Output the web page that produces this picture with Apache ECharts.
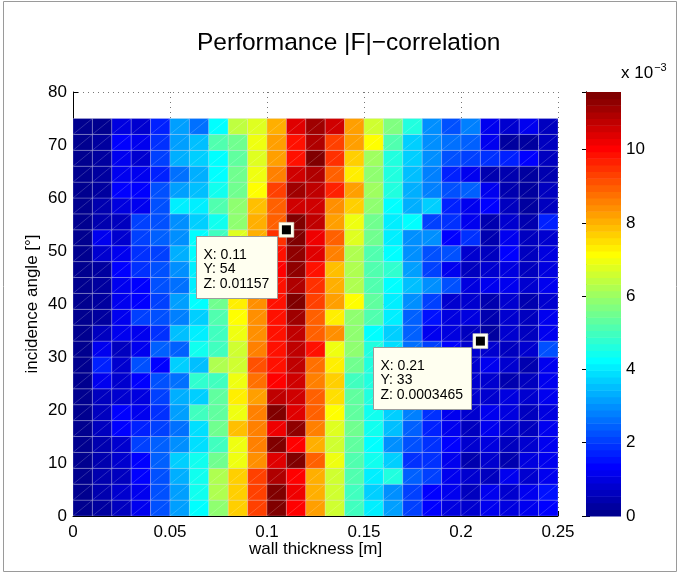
<!DOCTYPE html>
<html>
<head>
<meta charset="utf-8">
<script src="https://cdn.jsdelivr.net/npm/echarts@6/dist/echarts.min.js"></script>
<style>
  html, body { margin: 0; padding: 0; background: #fff; }
  #chart { width: 680px; height: 574px; }
</style>
</head>
<body>
<div id="chart"></div>
<script>
// Grid nodes: wall thickness [m] and incidence angle [deg]
const thickness = [0, 0.01, 0.02, 0.03, 0.04, 0.05, 0.06, 0.07, 0.08, 0.09, 0.10, 0.11, 0.12,
                   0.13, 0.14, 0.15, 0.16, 0.17, 0.18, 0.19, 0.20, 0.21, 0.22, 0.23, 0.24, 0.25];
const angles = [0, 3, 6, 9, 12, 15, 18, 21, 24, 27, 30, 33, 36, 39, 42, 45, 48, 51, 54, 57,
                60, 63, 66, 69, 72, 75];

// |F|-correlation per cell (x 10^-3); one row per angle, bottom row first
const corr = [
  [0.1, 0.3, 0.6, 1.2, 2.2, 3.2, 4.3, 5.8, 7.6, 9.3, 11.5, 10.1, 8.2, 6.6, 5.0, 4.0, 3.1, 2.0, 1.3, 1.0, 0.8, 1.2, 1.0, 1.1, 1.4],
  [0.1, 0.4, 0.9, 1.2, 2.3, 3.2, 4.5, 6.2, 7.7, 9.3, 11.5, 10.3, 8.0, 6.6, 5.0, 3.7, 3.0, 2.1, 1.3, 1.1, 0.7, 1.2, 0.9, 1.2, 1.6],
  [0.1, 0.4, 0.7, 1.3, 2.3, 3.4, 4.5, 6.3, 7.7, 9.3, 11.0, 10.1, 8.1, 6.6, 5.2, 4.0, 4.7, 2.5, 2.1, 1.1, 0.8, 0.7, 1.2, 0.8, 1.2],
  [0.1, 0.5, 0.9, 1.4, 2.5, 3.7, 4.5, 5.5, 7.0, 8.4, 10.4, 11.4, 8.9, 7.0, 5.2, 4.5, 3.7, 1.9, 1.9, 1.2, 0.5, 0.8, 0.5, 1.0, 1.1],
  [0.1, 0.5, 0.9, 2.1, 2.5, 3.0, 3.8, 5.0, 6.9, 8.6, 11.4, 10.1, 8.1, 6.6, 5.4, 4.2, 3.0, 2.2, 1.9, 1.3, 0.8, 1.0, 0.7, 0.8, 1.1],
  [0.1, 0.7, 1.4, 1.8, 2.0, 2.7, 3.8, 5.6, 7.9, 8.5, 10.3, 11.3, 8.5, 6.8, 5.5, 4.5, 3.6, 2.5, 1.7, 1.2, 0.6, 1.2, 0.9, 0.7, 1.2],
  [0.1, 0.6, 1.3, 1.1, 1.9, 3.2, 5.0, 5.3, 6.9, 8.5, 11.5, 10.4, 9.0, 7.2, 5.4, 4.5, 3.7, 2.8, 1.9, 1.2, 0.9, 1.1, 1.0, 0.7, 1.0],
  [0.1, 0.7, 0.9, 1.0, 2.1, 3.3, 3.7, 5.4, 7.4, 8.3, 10.8, 10.6, 8.9, 7.5, 5.4, 4.7, 3.8, 2.6, 1.8, 1.2, 0.8, 0.8, 1.0, 0.8, 1.2],
  [0.1, 1.1, 0.9, 1.3, 2.2, 2.6, 4.8, 5.0, 7.0, 8.7, 10.1, 10.6, 8.5, 7.6, 5.0, 4.6, 3.6, 2.4, 1.9, 1.1, 0.9, 0.8, 0.4, 0.7, 1.1],
  [0.1, 1.7, 0.9, 2.3, 1.3, 3.7, 3.5, 6.3, 6.6, 9.1, 9.9, 10.8, 8.7, 7.3, 5.5, 4.7, 3.7, 2.5, 1.8, 1.2, 0.8, 1.1, 0.9, 0.5, 1.2],
  [0.1, 1.1, 0.6, 1.2, 2.5, 2.4, 4.5, 5.0, 6.6, 8.5, 9.9, 10.7, 9.9, 7.0, 5.9, 4.7, 3.8, 2.6, 2.0, 1.3, 0.9, 0.9, 0.6, 0.9, 2.3],
  [0.1, 0.7, 1.2, 1.1, 1.9, 3.6, 4.0, 5.0, 6.9, 8.4, 9.8, 10.8, 8.9, 8.4, 5.9, 4.3, 3.7, 2.4, 1.2, 1.0, 0.7, 0.3465, 0.9, 0.7, 1.1],
  [0.1, 0.2, 1.1, 2.1, 2.3, 2.8, 3.7, 5.1, 7.2, 8.4, 9.9, 11.2, 8.9, 7.4, 5.8, 5.1, 4.1, 2.5, 1.5, 1.0, 1.0, 0.4, 0.9, 0.6, 1.1],
  [0.1, 0.3, 1.1, 1.3, 2.1, 3.2, 4.3, 5.6, 7.4, 8.4, 9.8, 11.5, 9.4, 8.2, 7.1, 5.4, 4.0, 3.0, 2.0, 0.9, 0.8, 0.5, 0.9, 0.5, 0.9],
  [0.1, 0.3, 1.1, 1.3, 2.3, 2.6, 4.1, 5.3, 7.0, 8.5, 9.9, 11.0, 9.5, 8.0, 6.3, 5.2, 4.3, 3.6, 3.0, 2.3, 1.0, 1.2, 1.1, 0.9, 1.1],
  [0.1, 0.2, 1.3, 1.9, 2.2, 3.0, 4.0, 5.0, 6.8, 8.6, 10.0, 11.3, 9.8, 7.8, 6.2, 5.2, 4.8, 3.1, 2.0, 1.2, 0.6, 0.8, 1.0, 0.7, 1.0],
  [0.1, 0.8, 1.1, 1.9, 2.1, 3.3, 4.2, 5.2, 6.5, 8.3, 9.8, 11.3, 10.4, 8.5, 6.2, 5.1, 4.2, 2.9, 2.2, 2.3, 0.8, 0.6, 1.3, 0.7, 1.0],
  [0.1, 1.2, 0.9, 2.1, 2.5, 2.9, 4.2, 5.0, 6.8, 8.0, 9.5, 11.4, 10.3, 8.9, 6.8, 5.5, 4.1, 3.0, 2.9, 1.4, 1.9, 0.5, 1.2, 0.7, 0.8],
  [0.1, 0.5, 0.7, 2.1, 2.3, 2.9, 3.7, 4.4, 5.9, 8.1, 8.9, 11.57, 10.7, 8.3, 7.0, 5.6, 4.1, 4.3, 2.1, 1.9, 1.2, 0.5, 0.9, 0.5, 1.8],
  [0.1, 0.5, 1.0, 1.1, 2.3, 4.0, 4.1, 5.1, 5.9, 7.9, 8.9, 10.6, 10.6, 8.4, 7.6, 5.9, 4.3, 3.3, 3.7, 1.8, 1.1, 1.3, 0.6, 0.3, 0.7],
  [0.1, 0.2, 1.3, 1.4, 2.3, 3.1, 3.5, 4.4, 5.6, 7.2, 9.3, 11.2, 10.8, 9.7, 8.2, 6.0, 4.6, 3.4, 2.8, 2.3, 2.5, 1.1, 0.5, 0.3, 0.6],
  [0.1, 0.2, 1.1, 1.2, 1.7, 2.7, 3.4, 4.3, 5.6, 6.9, 8.5, 10.5, 10.9, 9.0, 7.4, 5.9, 4.7, 3.5, 2.8, 1.8, 1.1, 0.5, 0.4, 0.3, 0.5],
  [0.1, 0.2, 1.2, 0.9, 2.1, 3.4, 3.7, 4.3, 5.4, 6.8, 8.2, 9.8, 11.5, 9.5, 7.7, 6.0, 4.7, 3.7, 3.0, 2.3, 2.0, 1.9, 1.8, 1.3, 0.7],
  [0.1, 0.3, 1.4, 1.2, 1.9, 3.2, 3.6, 5.2, 5.5, 6.9, 8.2, 9.8, 11.0, 9.3, 8.3, 7.2, 5.2, 3.7, 3.0, 2.6, 2.5, 1.2, 0.3, 0.2, 0.6],
  [0.1, 0.15, 1.0, 0.8, 1.8, 3.2, 2.7, 4.2, 6.4, 6.7, 8.1, 10.4, 11.2, 10.5, 8.3, 6.6, 5.7, 4.6, 3.0, 2.3, 2.8, 1.2, 0.9, 1.1, 0.6]
];

// Colour-bar tick values (x 10^-3) and pinned data cursors [thickness, angle]
const colorbarTicks = [0, 2, 4, 6, 8, 10];
const dataTips = [[0.11, 54], [0.21, 33]];

const FONT = '"Liberation Sans", Arial, Helvetica, sans-serif';
const cMin = 0;
const cMax = Math.max(...corr.map(r => Math.max(...r)));
const LEVELS = 64;

// MATLAB-style jet colormap with 64 levels (1-based index)
function jetU(k) {
  if (k <= 16) return k / 16;
  if (k <= 31) return 1;
  return (48 - k) / 16;
}
function jetColor(i) {
  const r = i >= 25 ? jetU(i - 24) : 0;
  const g = (i >= 9 && i <= 55) ? jetU(i - 8) : 0;
  const b = i <= 39 ? jetU(i + 8) : 0;
  return 'rgb(' + Math.round(r * 255) + ',' + Math.round(g * 255) + ',' + Math.round(b * 255) + ')';
}
function levelOf(z) {
  return Math.max(1, Math.min(LEVELS, Math.floor((z - cMin) / (cMax - cMin) * LEVELS) + 1));
}

// Cells: [x0, x1, y0, y1, z]
const cells = [];
for (let j = 0; j < angles.length - 1; j++) {
  for (let i = 0; i < thickness.length - 1; i++) {
    cells.push([thickness[i], thickness[i + 1], angles[j], angles[j + 1], corr[j][i]]);
  }
}
// Colour-bar bands: [lo, hi, level]
const bands = [];
for (let k = 1; k <= LEVELS; k++) {
  bands.push([cMin + (k - 1) / LEVELS * (cMax - cMin), cMin + k / LEVELS * (cMax - cMin), k]);
}

const chart = echarts.init(document.getElementById('chart'), null, { renderer: 'canvas' });

const axisText = { color: '#000', fontFamily: FONT, fontSize: 17 };
const dotted = { show: true, lineStyle: { color: '#777', type: [1, 4], width: 1 } };

chart.setOption({
  animation: false,
  backgroundColor: '#fff',
  title: {
    text: 'Performance |F|\u2212correlation',
    left: 197, top: 31, padding: 0,
    textStyle: { fontFamily: FONT, fontSize: 24.5, fontWeight: 'normal', color: '#000' }
  },
  grid: [
    { left: 73, top: 92, width: 485, height: 424 },
    { left: 586, top: 92, width: 35, height: 424 }
  ],
  xAxis: [
    {
      type: 'value', gridIndex: 0, min: 0, max: 0.25, interval: 0.05,
      name: 'wall thickness [m]', nameLocation: 'middle', nameGap: 25, nameMoveOverlap: false,
      nameTextStyle: { fontFamily: FONT, fontSize: 17, color: '#000' },
      axisLine: { show: true, onZero: false, lineStyle: { color: '#000', width: 1 } },
      axisTick: { show: true, inside: true, length: 5, lineStyle: { color: '#000' } },
      axisLabel: Object.assign({ margin: 8 }, axisText),
      splitLine: dotted
    },
    {
      type: 'value', gridIndex: 1, min: 0, max: 1, show: false
    }
  ],
  yAxis: [
    {
      type: 'value', gridIndex: 0, min: 0, max: 80, interval: 10,
      name: 'incidence angle [\u00b0]', nameLocation: 'middle', nameGap: 32, nameMoveOverlap: false,
      nameTextStyle: { fontFamily: FONT, fontSize: 17, color: '#000' },
      axisLine: { show: true, onZero: false, lineStyle: { color: '#000', width: 1 } },
      axisTick: { show: true, inside: true, length: 5, lineStyle: { color: '#000' } },
      axisLabel: Object.assign({ margin: 6 }, axisText),
      splitLine: dotted
    },
    {
      type: 'value', gridIndex: 1, min: cMin, max: cMax, interval: 2, position: 'right',
      axisLine: { show: true, lineStyle: { color: '#000', width: 1 } },
      axisTick: { show: true, inside: true, length: 4, lineStyle: { color: '#000' } },
      axisLabel: Object.assign({ margin: 5, formatter: v => colorbarTicks.indexOf(v) >= 0 ? String(v) : '' }, axisText),
      splitLine: { show: false }
    },
    {
      type: 'value', gridIndex: 1, min: cMin, max: cMax, interval: 2, position: 'left',
      axisLine: { show: true, lineStyle: { color: '#000', width: 1 } },
      axisTick: { show: true, inside: true, length: 4, lineStyle: { color: '#000' } },
      axisLabel: { show: false },
      splitLine: { show: false }
    }
  ],
  series: [
    {
      type: 'custom',
      xAxisIndex: 0, yAxisIndex: 0,
      data: cells,
      encode: { x: [0, 1], y: [2, 3] },
      clip: true,
      renderItem: function (params, api) {
        const p0 = api.coord([api.value(0), api.value(2)]);
        const p1 = api.coord([api.value(1), api.value(3)]);
        const x = p0[0], y = p1[1], w = p1[0] - p0[0], h = p0[1] - p1[1];
        const fill = jetColor(levelOf(api.value(4)));
        return {
          type: 'group',
          children: [
            { type: 'rect', shape: { x: x, y: y, width: w, height: h },
              style: { fill: fill, stroke: 'rgba(215,215,230,0.35)', lineWidth: 0.8 } },
            { type: 'line', shape: { x1: x, y1: y + h, x2: x + w, y2: y },
              style: { stroke: 'rgba(255,255,255,0.3)', lineWidth: 0.6 } }
          ]
        };
      }
    },
    {
      type: 'custom',
      xAxisIndex: 1, yAxisIndex: 1,
      data: bands,
      encode: { y: [0, 1] },
      renderItem: function (params, api) {
        const p0 = api.coord([0, api.value(0)]);
        const p1 = api.coord([1, api.value(1)]);
        return {
          type: 'rect',
          shape: { x: p0[0], y: p1[1], width: p1[0] - p0[0], height: p0[1] - p1[1] + 0.5 },
          style: { fill: jetColor(api.value(2)) }
        };
      }
    }
  ]
});

// Frame, colour-bar exponent and pinned data cursors
function textWidth(str, font) {
  const c = document.createElement('canvas').getContext('2d');
  c.font = font;
  return c.measureText(str).width;
}
function fmt(v) { return String(Number(v.toPrecision(4))); }

const graphics = [
  { type: 'rect', shape: { x: 3.5, y: 1.5, width: 673, height: 570 },
    style: { fill: 'none', stroke: '#9a9a9a', lineWidth: 1 }, z: 100 },
  { type: 'text', x: 621, y: 62, z: 100,
    style: {
      text: '{a|x 10}{b|\u22123}',
      rich: {
        a: { fontFamily: FONT, fontSize: 17, fill: '#000', verticalAlign: 'bottom', lineHeight: 20 },
        b: { fontFamily: FONT, fontSize: 11, fill: '#000', verticalAlign: 'top', lineHeight: 20, padding: [0, 0, 11, 1] }
      }
    }
  }
];

const tipFont = '14px "Liberation Sans", Arial, Helvetica, sans-serif';
dataTips.forEach(function (tp) {
  const i = thickness.indexOf(tp[0]);
  const j = angles.indexOf(tp[1]);
  const z = corr[j][i] / 1000;
  const lines = ['X: ' + fmt(tp[0]), 'Y: ' + fmt(tp[1]), 'Z: ' + fmt(z)];
  const p = chart.convertToPixel({ gridIndex: 0 }, tp);
  const tw = Math.max(...lines.map(s => textWidth(s, tipFont)));
  const bw = Math.round(tw + 15);
  const bx = Math.round(p[0] - 9 - bw) + 0.5;
  const by = Math.round(p[1] + 6) + 0.5;
  graphics.push(
    { type: 'rect', z: 110, shape: { x: bx, y: by, width: bw, height: 62 },
      style: { fill: '#fffff0', stroke: '#9c9c9c', lineWidth: 1 } },
    { type: 'text', z: 111, x: bx + 7, y: by + 19,
      style: { text: lines[0], font: tipFont, fill: '#000', verticalAlign: 'middle' } },
    { type: 'text', z: 111, x: bx + 7, y: by + 32.5,
      style: { text: lines[1], font: tipFont, fill: '#000', verticalAlign: 'middle' } },
    { type: 'text', z: 111, x: bx + 7, y: by + 47.5,
      style: { text: lines[2], font: tipFont, fill: '#000', verticalAlign: 'middle' } },
    { type: 'rect', z: 112, shape: { x: p[0] - 7.5, y: p[1] - 7.5, width: 15, height: 15 },
      style: { fill: '#fffff0', stroke: '#c8c8b0', lineWidth: 0.5 } },
    { type: 'rect', z: 113, shape: { x: p[0] - 4.5, y: p[1] - 4.5, width: 9, height: 9 },
      style: { fill: '#000' } }
  );
});

chart.setOption({ graphic: graphics });
</script>
</body>
</html>
